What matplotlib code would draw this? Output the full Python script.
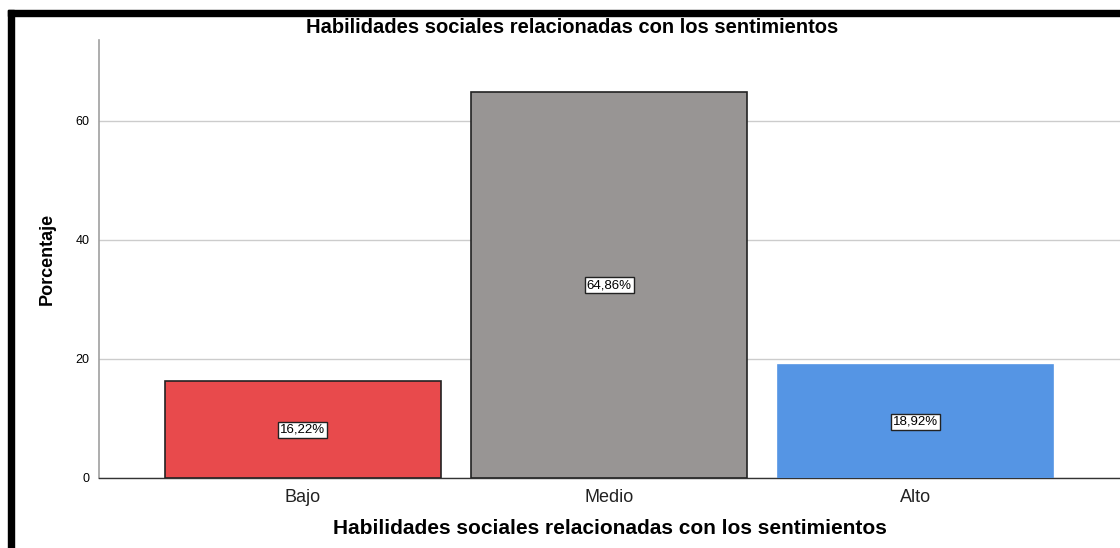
import matplotlib
matplotlib.use("Agg")
import matplotlib.pyplot as plt
from matplotlib.patches import Rectangle

categories = ["Bajo", "Medio", "Alto"]
values = [16.22, 64.86, 18.92]
labels = ["16,22%", "64,86%", "18,92%"]
colors = ["#E84A4C", "#989594", "#5595E4"]
edgecolors = ["#222222", "#222222", "#5595E4"]
yticks = [0, 20, 40, 60]

plt.rcParams['font.family'] = ['Liberation Sans', 'DejaVu Sans']

fig = plt.figure(figsize=(11.2, 5.48), dpi=100)
ax = fig.add_axes([99/1120, 1 - 478/548, 1 - 99/1120, (478 - 40)/548])

x = list(range(len(categories)))
ax.bar(x, values, width=0.9, color=colors, edgecolor=edgecolors, linewidth=1.2, zorder=3)
for xi, v, lab in zip(x, values, labels):
    ax.text(xi, v / 2, lab, ha='center', va='center', fontsize=9.5, zorder=4,
            bbox=dict(boxstyle='square,pad=0.15', fc='white', ec='#222222', lw=1))

ax.set_xlim(-0.665, 2.668)
ax.set_ylim(0, 73.6)
ax.set_yticks(yticks)
ax.set_yticklabels([str(t) for t in yticks], fontsize=9)
ax.set_xticks(x)
ax.set_xticklabels(categories, fontsize=13, color='#222222')
ax.tick_params(axis='both', length=0, pad=7)
ax.tick_params(axis='x', pad=8)
ax.grid(axis='y', color='#cccccc', linewidth=1, zorder=0)
for s in ['top', 'right']:
    ax.spines[s].set_visible(False)
ax.spines['left'].set_color('#a0a0a0')
ax.spines['left'].set_linewidth(1.2)
ax.spines['bottom'].set_color('#333333')
ax.spines['bottom'].set_linewidth(1)

ax.set_ylabel("Porcentaje", fontsize=13, fontweight='bold', labelpad=14)
ax.set_xlabel("Habilidades sociales relacionadas con los sentimientos", fontsize=15,
              fontweight='bold', labelpad=9)
fig.text(572/1120, 1 - 33/548, "Habilidades sociales relacionadas con los sentimientos",
         ha='center', va='baseline', fontsize=14.5, fontweight='bold')

# black frame on left and top
fig.patches.append(Rectangle((8/1120, 0), 6/1120, 1 - 10/548, transform=fig.transFigure,
                             color='black', zorder=10))
fig.patches.append(Rectangle((8/1120, 1 - 16/548), 1, 6/548, transform=fig.transFigure,
                             color='black', zorder=10))

fig.savefig("out.png", dpi=100)
